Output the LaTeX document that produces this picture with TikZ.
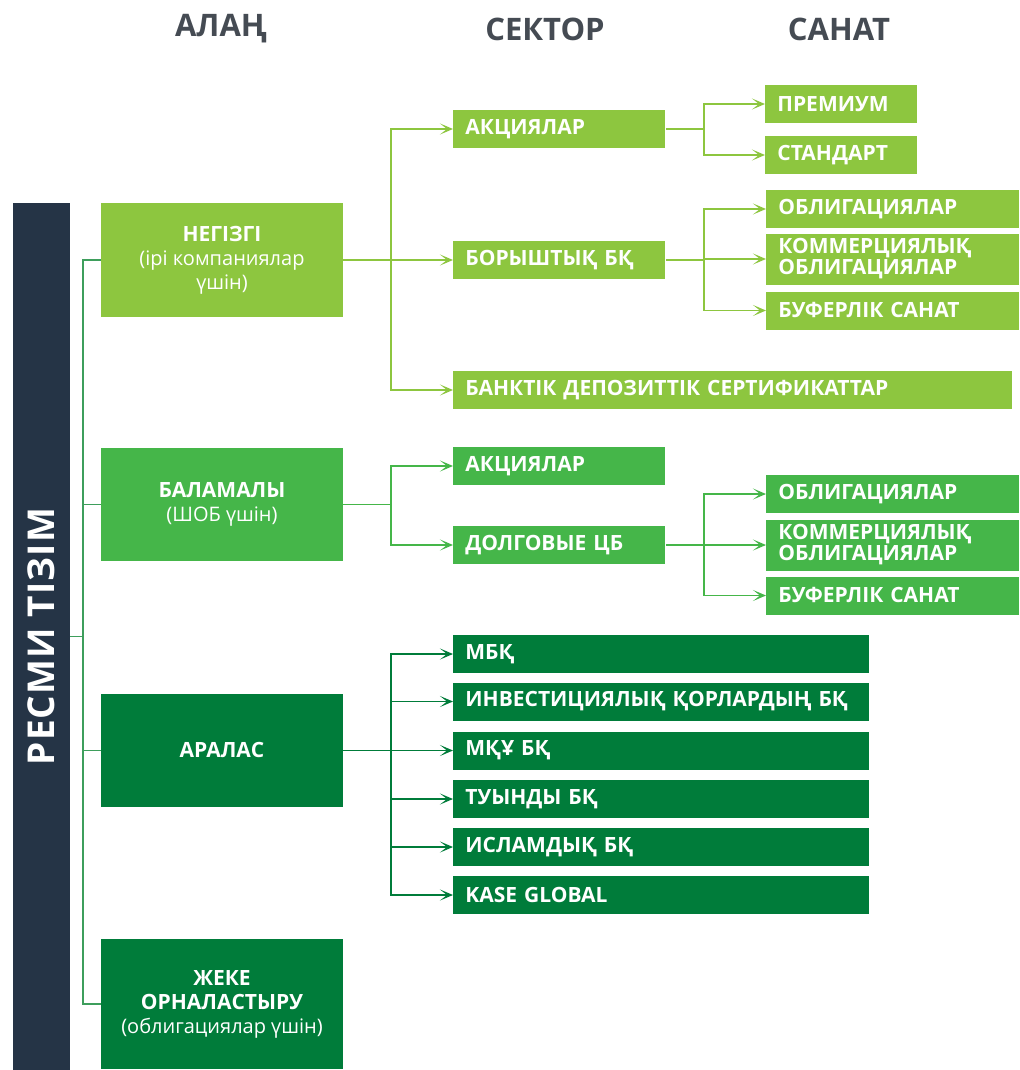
\documentclass[tikz,border=0pt]{standalone}
\usepackage{fontspec}
\setmainfont{Open Sans}
\usetikzlibrary{arrows.meta, positioning}

\definecolor{navy}{HTML}{253446}
\definecolor{lgreen}{HTML}{8DC63F}
\definecolor{mgreen}{HTML}{45B649}
\definecolor{dgreen}{HTML}{007C3A}
\definecolor{trunkc}{HTML}{3E9E5C}
\definecolor{headc}{HTML}{454B53}

\tikzset{
  head/.style={font=\bfseries\fontsize{15.5}{18}\selectfont, text=headc},
  lvl/.style={fill=#1, text=white, minimum width=121pt, inner sep=0pt, align=center,
    font=\fontsize{10}{12}\selectfont},
  sec/.style={fill=#1, text=white, anchor=west, inner xsep=6pt, inner ysep=0pt,
    minimum height=19pt, align=left, font=\bfseries\fontsize{10.5}{10.5}\selectfont},
  link/.style={draw=#1, line width=0.75pt},
  arr/.style={link=#1, -{Stealth[length=6.5pt,width=5.5pt,inset=3.5pt]}},
}

\begin{document}
\begin{tikzpicture}[x=0.5pt, y=-0.5pt]
      \useasboundingbox (0,0) rectangle (1019,1070);

      % column heads
      \node[head] (alan) at (221,29) {АЛАҢ};
      \node[head] (sektor) at (545,29) {СЕКТОР};
      \node[head] (sanat) at (839,29) {САНАТ};

      % left bar
      \node[fill=navy, text=white, rotate=90, minimum width=433.5pt, minimum height=28.5pt,
        inner sep=0pt, font=\bfseries\fontsize{18.5}{18.5}\selectfont] (resmi) at (41.5,636.5)
        {\addfontfeature{LetterSpace=3}РЕСМИ ТІЗІМ};

      % platforms
      \node[lvl=lgreen, minimum height=57pt] (negizgi) at (222,260)
        {\textbf{\fontsize{10.5}{12}\selectfont НЕГІЗГІ}\\(ірі компаниялар\\үшін)};
      \node[lvl=mgreen, minimum height=56.5pt] (balama) at (222,504.5)
        {\textbf{\fontsize{10.5}{12}\selectfont БАЛАМАЛЫ}\\(ШОБ үшін)};
      \node[lvl=dgreen, minimum height=56.5pt] (aralas) at (222,750.5)
        {\textbf{\fontsize{10.5}{12}\selectfont АРАЛАС}};
      \node[lvl=dgreen, minimum height=65pt] (zheke) at (222,1004)
        {\textbf{\fontsize{10.5}{12}\selectfont ЖЕКЕ}\\\textbf{\fontsize{10.5}{12}\selectfont ОРНАЛАСТЫРУ}\\(облигациялар үшін)};

      % sectors of the main platform
      \node[sec=lgreen, text width=94pt] (akc1) at (453,129) {АКЦИЯЛАР};
      \node[sec=lgreen, text width=94pt] (borysh) at (453,260) {БОРЫШТЫҚ БҚ};
      \node[sec=lgreen, text width=267.5pt] (bankt) at (453,390) {БАНКТІК ДЕПОЗИТТІК СЕРТИФИКАТТАР};

      % categories of the main platform
      \node[sec=lgreen, text width=64pt] (prem) at (765,104) {ПРЕМИУМ};
      \node[sec=lgreen, text width=64pt] (stand) at (765,155) {СТАНДАРТ};
      \node[sec=lgreen, text width=114.5pt] (obl1) at (766,209) {ОБЛИГАЦИЯЛАР};
      \node[sec=lgreen, text width=114.5pt, minimum height=25.5pt] (komm1) at (766,259)
        {КОММЕРЦИЯЛЫҚ\\ОБЛИГАЦИЯЛАР};
      \node[sec=lgreen, text width=114.5pt] (buf1) at (766,310.5) {БУФЕРЛІК САНАТ};

      % alternative platform
      \node[sec=mgreen, text width=94pt] (akc2) at (453,466) {АКЦИЯЛАР};
      \node[sec=mgreen, text width=94pt] (dolg) at (453,545) {ДОЛГОВЫЕ ЦБ};
      \node[sec=mgreen, text width=114.5pt] (obl2) at (766,494) {ОБЛИГАЦИЯЛАР};
      \node[sec=mgreen, text width=114.5pt, minimum height=25.5pt] (komm2) at (766,545)
        {КОММЕРЦИЯЛЫҚ\\ОБЛИГАЦИЯЛАР};
      \node[sec=mgreen, text width=114.5pt] (buf2) at (766,595.5) {БУФЕРЛІК САНАТ};

      % mixed platform
      \node[sec=dgreen, text width=196pt] (mbk) at (453,654) {МБҚ};
      \node[sec=dgreen, text width=196pt] (invest) at (453,701.5) {ИНВЕСТИЦИЯЛЫҚ ҚОРЛАРДЫҢ БҚ};
      \node[sec=dgreen, text width=196pt] (mku) at (453,750.5) {МҚҰ БҚ};
      \node[sec=dgreen, text width=196pt] (tuyndy) at (453,799) {ТУЫНДЫ БҚ};
      \node[sec=dgreen, text width=196pt] (islam) at (453,847) {ИСЛАМДЫҚ БҚ};
      \node[sec=dgreen, text width=196pt] (kase) at (453,895) {KASE GLOBAL};

      % bus lines
      \coordinate (t) at (83,0);
      \coordinate (b1) at (391,0);
      \coordinate (b2) at (704,0);

      % trunk from the left bar
      \draw[link=trunkc] (resmi.south) -- (resmi.south -| t);
      \draw[link=trunkc] (negizgi.west) -- (negizgi.west -| t) -- (zheke.west -| t) -- (zheke.west);
      \draw[link=trunkc] (balama.west) -- (balama.west -| t);
      \draw[link=trunkc] (aralas.west) -- (aralas.west -| t);

      % main platform to sectors
      \draw[arr=lgreen] (negizgi.east) -- (borysh.west);
      \draw[arr=lgreen] (negizgi.east -| b1) |- (akc1.west);
      \draw[arr=lgreen] (negizgi.east -| b1) |- (bankt.west);

      % sectors to categories
      \draw[link=lgreen] (akc1.east) -- (akc1.east -| b2);
      \draw[arr=lgreen] (akc1.east -| b2) |- (prem.west);
      \draw[arr=lgreen] (akc1.east -| b2) |- (stand.west);
      \draw[arr=lgreen] (borysh.east) -- (borysh.east -| b2) |- (komm1.west);
      \draw[arr=lgreen] (borysh.east -| b2) |- (obl1.west);
      \draw[arr=lgreen] (borysh.east -| b2) |- (buf1.west);

      % alternative platform links
      \draw[link=mgreen] (balama.east) -- (balama.east -| b1);
      \draw[arr=mgreen] (balama.east -| b1) |- (akc2.west);
      \draw[arr=mgreen] (balama.east -| b1) |- (dolg.west);
      \draw[arr=mgreen] (dolg.east) -- (komm2.west);
      \draw[arr=mgreen] (dolg.east -| b2) |- (obl2.west);
      \draw[arr=mgreen] (dolg.east -| b2) |- (buf2.west);

      % mixed platform links
      \draw[arr=dgreen] (aralas.east) -- (mku.west);
      \foreach \n in {mbk, invest, tuyndy, islam, kase}
        \draw[arr=dgreen] (aralas.east -| b1) |- (\n.west);
    \end{tikzpicture}
\end{document}
